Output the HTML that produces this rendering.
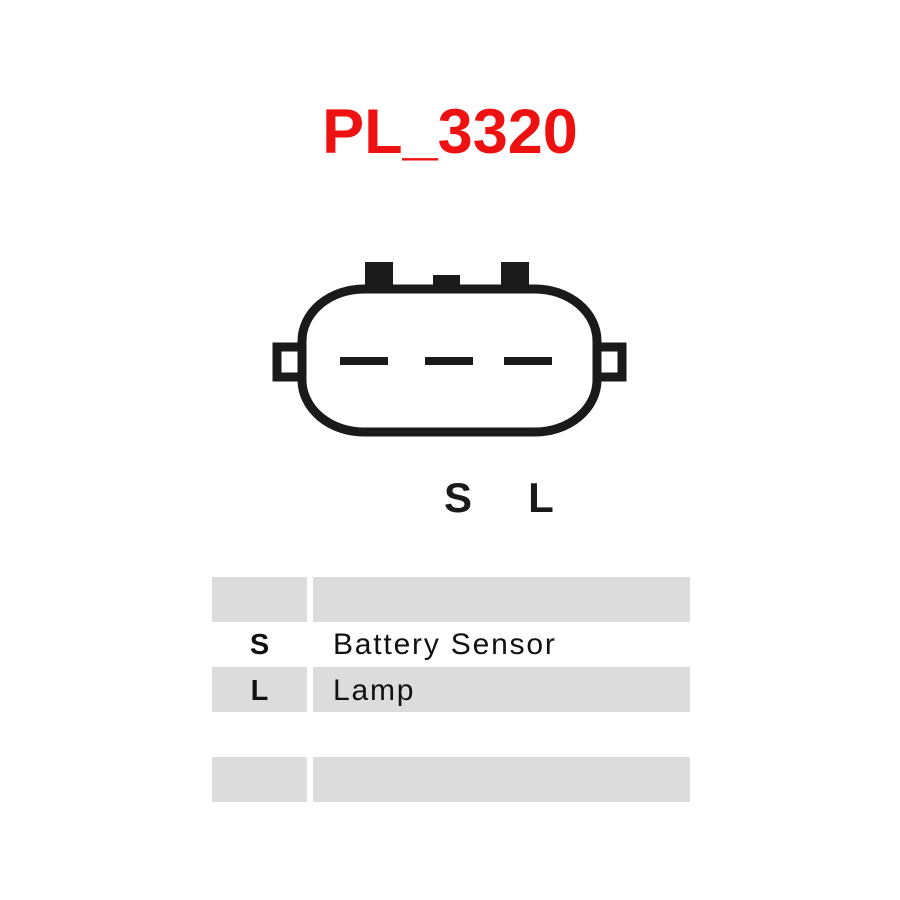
<!DOCTYPE html>
<html><head><style>
body{margin:0;background:#fff;}
.w{position:relative;width:900px;height:900px;overflow:hidden;font-family:"Liberation Sans",sans-serif;}
.t{position:absolute;left:0;width:900px;text-align:center;top:96px;font-size:63px;font-weight:bold;color:#ee1111;}
.g{position:absolute;background:#dcdcdc;}
.tx{position:absolute;font-size:30px;color:#111;letter-spacing:1.8px;}
.b{position:absolute;font-weight:bold;font-size:29px;color:#111;width:95px;text-align:center;left:212px;}
</style></head><body><div class="w">
<div class="t">PL_3320</div>
<svg width="900" height="900" style="position:absolute;left:0;top:0">
<g fill="#1a1a1a">
<rect x="365" y="262" width="28" height="26"/>
<rect x="433" y="275" width="27" height="13"/>
<rect x="501" y="262" width="28" height="26"/>
</g>
<path d="M302 347 L277 347 L277 377 L302 377" fill="none" stroke="#1a1a1a" stroke-width="9"/>
<path d="M597 347 L622 347 L622 377 L597 377" fill="none" stroke="#1a1a1a" stroke-width="9"/>
<rect x="302" y="289" width="295" height="143" rx="62" ry="52" fill="#fff" stroke="#1a1a1a" stroke-width="9"/>
<g fill="#1a1a1a">
<rect x="340" y="357" width="48" height="8"/>
<rect x="425" y="357" width="48" height="8"/>
<rect x="504" y="357" width="48" height="8"/>
</g>
<text x="458" y="512" font-family="Liberation Sans" font-weight="bold" font-size="42" text-anchor="middle" fill="#1a1a1a">S</text>
<text x="541" y="512" font-family="Liberation Sans" font-weight="bold" font-size="42" text-anchor="middle" fill="#1a1a1a">L</text>
</svg>
<div class="g" style="left:212px;top:577px;width:95px;height:45px"></div>
<div class="g" style="left:313px;top:577px;width:377px;height:45px"></div>
<div class="g" style="left:212px;top:667px;width:95px;height:45px"></div>
<div class="g" style="left:313px;top:667px;width:377px;height:45px"></div>
<div class="g" style="left:212px;top:757px;width:95px;height:45px"></div>
<div class="g" style="left:313px;top:757px;width:377px;height:45px"></div>
<div class="b" style="top:629px">S</div>
<div class="tx" style="left:333px;top:628px">Battery Sensor</div>
<div class="b" style="top:675px">L</div>
<div class="tx" style="left:333px;top:674px">Lamp</div>
</div></body></html>
